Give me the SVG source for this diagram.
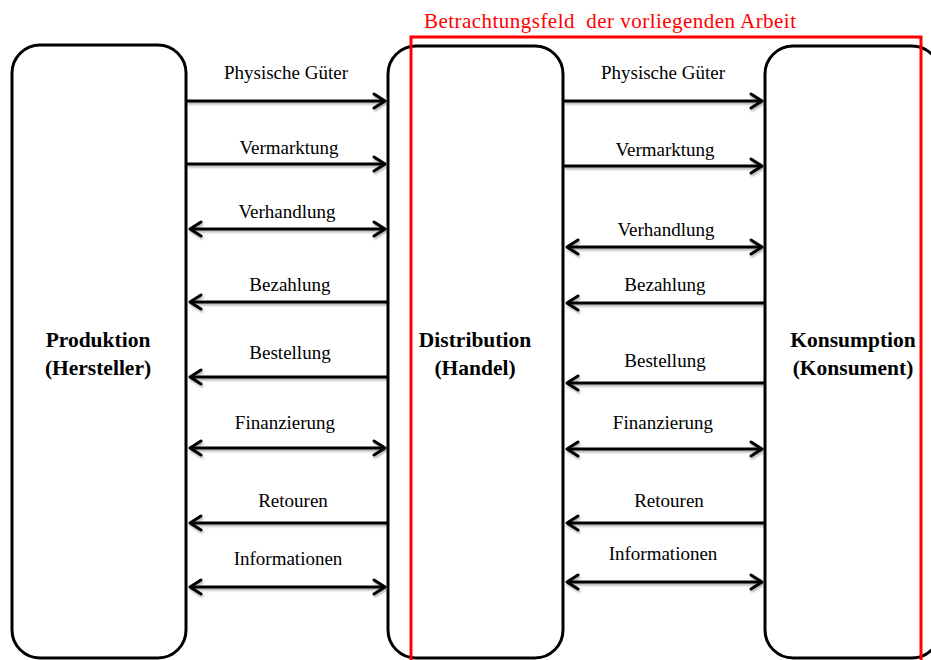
<svg xmlns="http://www.w3.org/2000/svg" width="931" height="660" viewBox="0 0 931 660">
  <style>
    .node { fill: #ffffff; stroke: #000000; stroke-width: 3; }
    .nlabel { font-family: "Liberation Serif", "Times New Roman", serif; font-weight: bold; font-size: 21.5px; fill: #000000; text-anchor: middle; }
    .flow { stroke: #000000; stroke-width: 3; fill: none; }
    .elabel { font-family: "Liberation Serif", "Times New Roman", serif; font-size: 19px; fill: #000000; text-anchor: middle; }
    .scope { fill: none; stroke: #ff0000; stroke-width: 3; }
    .scopelabel { font-family: "Liberation Serif", "Times New Roman", serif; font-size: 21px; fill: #ff0000; }
  </style>
  <defs>
    <marker id="head" viewBox="-14 -9 16 18" refX="0" refY="0" markerWidth="16" markerHeight="18" markerUnits="userSpaceOnUse" orient="auto-start-reverse">
      <path d="M -11 -7 L 0 0 L -11 7" fill="none" stroke="#000000" stroke-width="3" stroke-linecap="round" stroke-linejoin="round"/>
    </marker>
    <filter id="soft" x="-5%" y="-50%" width="110%" height="200%">
      <feDropShadow dx="1" dy="2" stdDeviation="1.2" flood-color="#000000" flood-opacity="0.3"/>
    </filter>
  </defs>

  <!-- Nodes -->
  <g id="produktion">
    <rect class="node" x="12" y="45" width="174" height="613" rx="28" ry="28"/>
    <text class="nlabel" x="98" y="347">Produktion</text>
    <text class="nlabel" x="98" y="375">(Hersteller)</text>
  </g>
  <g id="distribution">
    <rect class="node" x="388" y="46" width="175" height="612" rx="28" ry="28"/>
    <text class="nlabel" x="475" y="347">Distribution</text>
    <text class="nlabel" x="475" y="375">(Handel)</text>
  </g>
  <g id="konsumption">
    <rect class="node" x="765" y="46" width="175" height="612" rx="28" ry="28"/>
    <text class="nlabel" x="853" y="347">Konsumption</text>
    <text class="nlabel" x="853" y="375">(Konsument)</text>
  </g>

  <!-- Flows between the stages -->
  <g id="connectors">
    <g filter="url(#soft)">
      <!-- Produktion <-> Distribution -->
      <line class="flow" x1="187" y1="101" x2="385" y2="101" marker-end="url(#head)"/>
      <line class="flow" x1="187" y1="164" x2="385" y2="164" marker-end="url(#head)"/>
      <line class="flow" x1="190" y1="229" x2="385" y2="229" marker-start="url(#head)" marker-end="url(#head)"/>
      <line class="flow" x1="387" y1="302" x2="190" y2="302" marker-end="url(#head)"/>
      <line class="flow" x1="387" y1="377" x2="190" y2="377" marker-end="url(#head)"/>
      <line class="flow" x1="190" y1="448" x2="385" y2="448" marker-start="url(#head)" marker-end="url(#head)"/>
      <line class="flow" x1="387" y1="523" x2="190" y2="523" marker-end="url(#head)"/>
      <line class="flow" x1="190" y1="587" x2="385" y2="587" marker-start="url(#head)" marker-end="url(#head)"/>
      <!-- Distribution <-> Konsumption -->
      <line class="flow" x1="564" y1="101" x2="762" y2="101" marker-end="url(#head)"/>
      <line class="flow" x1="564" y1="166" x2="762" y2="166" marker-end="url(#head)"/>
      <line class="flow" x1="567" y1="247" x2="762" y2="247" marker-start="url(#head)" marker-end="url(#head)"/>
      <line class="flow" x1="764" y1="303" x2="567" y2="303" marker-end="url(#head)"/>
      <line class="flow" x1="764" y1="383" x2="567" y2="383" marker-end="url(#head)"/>
      <line class="flow" x1="567" y1="449" x2="762" y2="449" marker-start="url(#head)" marker-end="url(#head)"/>
      <line class="flow" x1="764" y1="523" x2="567" y2="523" marker-end="url(#head)"/>
      <line class="flow" x1="567" y1="582" x2="762" y2="582" marker-start="url(#head)" marker-end="url(#head)"/>
    </g>
    <!-- Flow labels -->
    <text class="elabel" x="286" y="79">Physische Güter</text>
    <text class="elabel" x="289" y="154">Vermarktung</text>
    <text class="elabel" x="287" y="218">Verhandlung</text>
    <text class="elabel" x="290" y="291">Bezahlung</text>
    <text class="elabel" x="290" y="359">Bestellung</text>
    <text class="elabel" x="285" y="429">Finanzierung</text>
    <text class="elabel" x="293" y="507">Retouren</text>
    <text class="elabel" x="288" y="565">Informationen</text>

    <text class="elabel" x="663" y="79">Physische Güter</text>
    <text class="elabel" x="665" y="156">Vermarktung</text>
    <text class="elabel" x="666" y="236">Verhandlung</text>
    <text class="elabel" x="665" y="291">Bezahlung</text>
    <text class="elabel" x="665" y="367">Bestellung</text>
    <text class="elabel" x="663" y="429">Finanzierung</text>
    <text class="elabel" x="669" y="507">Retouren</text>
    <text class="elabel" x="663" y="560">Informationen</text>
  </g>

  <!-- Scope frame -->
  <g id="scope">
    <rect class="scope" x="411" y="37" width="510" height="640"/>
    <text class="scopelabel" x="424" y="28" xml:space="preserve" textLength="372" lengthAdjust="spacing">Betrachtungsfeld  der vorliegenden Arbeit</text>
  </g>
</svg>
